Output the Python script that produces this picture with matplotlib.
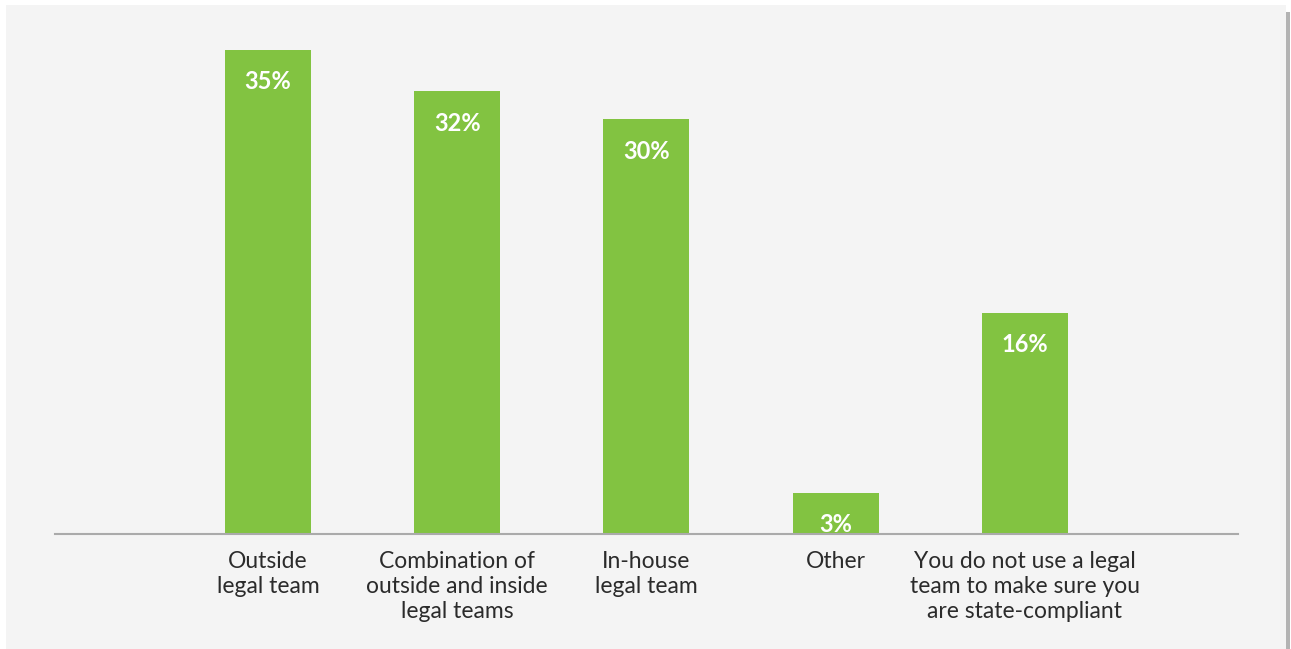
import matplotlib.pyplot as plt
from matplotlib.patches import Rectangle

plt.rcParams['font.family'] = ['Lato', 'DejaVu Sans']

# data
categories = ['Outside\nlegal team',
              'Combination of\noutside and inside\nlegal teams',
              'In-house\nlegal team',
              'Other',
              'You do not use a legal\nteam to make sure you\nare state-compliant']
values = [35, 32, 30, 3, 16]

W, H = 1291, 649
fig = plt.figure(figsize=(W / 100, H / 100), dpi=100)
fig.patch.set_facecolor('white')

# gray panel + right shadow
fig.patches.append(Rectangle((6 / W, 0), (1286 - 6) / W, 1 - 5 / H,
                             transform=fig.transFigure, facecolor='#f4f4f4',
                             edgecolor='none', zorder=-10))
fig.patches.append(Rectangle((1286 / W, 0), 4 / W, 1 - 12 / H,
                             transform=fig.transFigure, facecolor='#b3b3b3',
                             edgecolor='none', zorder=-10))

ax = fig.add_axes([55 / W, 1 - 534 / H, (1238 - 55) / W, (534 - 50) / H])
ax.patch.set_alpha(0)

x = list(range(len(categories)))
bars = ax.bar(x, values, width=0.454, color='#82c341', zorder=2)

for b, v in zip(bars, values):
    ax.annotate(f'{v}%', (b.get_x() + b.get_width() / 2, v),
                xytext=(0, -23), textcoords='offset points',
                ha='center', va='center', color='white',
                fontsize=17, fontweight='bold')

ax.set_xlim(-1.125, 5.126)
ax.set_ylim(0, 35)
ax.set_xticks(x)
ax.set_xticklabels(categories, fontsize=16.5, color='#2b2b2b', linespacing=1.25)
ax.tick_params(axis='x', length=0, pad=12)
ax.set_yticks([])
for s in ['top', 'right', 'left']:
    ax.spines[s].set_visible(False)
ax.spines['bottom'].set_color('#aaaaaa')
ax.spines['bottom'].set_linewidth(1.5)

fig.savefig('out.png', dpi=100)
